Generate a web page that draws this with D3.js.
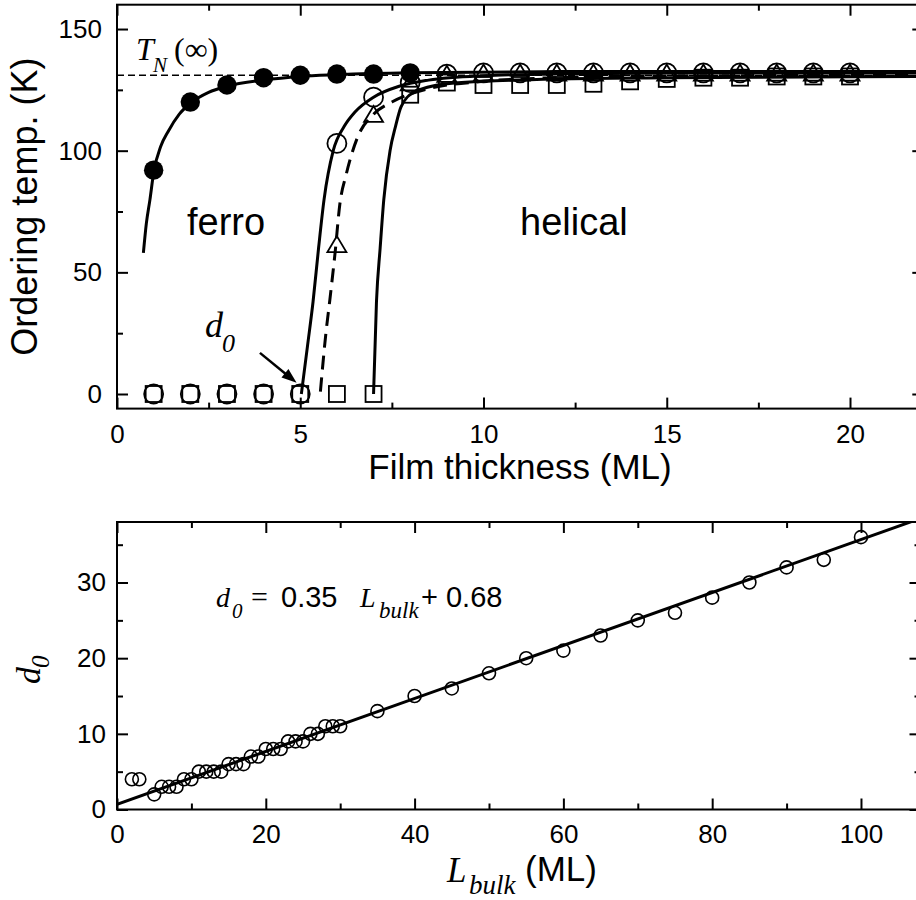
<!DOCTYPE html>
<html>
<head>
<meta charset="utf-8">
<script src="https://cdn.jsdelivr.net/npm/d3@7"></script>
<style>
  body { margin: 0; background: #fff; }
  svg { display: block; }
</style>
</head>
<body>
<div id="chart"></div>
<script>
// ---- top panel data (ordering temperature vs film thickness) ----
const thickness = d3.range(1, 21);
const ferroX = [1, 2, 3, 4, 5, 6, 7, 8];
const ferroT = [92, 120, 127, 130, 131, 131.5, 131.5, 132];
const circleT = [0, 0, 0, 0, 0, 103, 122, 128, 131.5, 132, 132, 132, 132, 132, 132, 132, 132, 132, 132, 132];
const triangleT = [null, null, null, null, null, 60.5, 114, 127, 130.5, 131, 131, 131, 131, 131, 131, 131, 131, 131, 131, 131];
const squareT = [0, 0, 0, 0, 0, 0, 0, 123, 128, 127, 127, 127, 127.5, 128.5, 129.5, 130, 130, 130.5, 130.5, 130.5];

// fitted curves as [thickness, T]
const ferroCurve = [[0.72, 58], [0.8, 70], [0.9, 80], [1.0, 91], [1.2, 102], [1.4, 108], [1.7, 115], [2, 119.5],
  [2.5, 124], [3, 126.5], [4, 129], [5, 130.5], [6, 131.2], [8, 132], [12, 132.5], [22, 132.5]];
const circleCurve = [[5.03, 0], [5.2, 20], [5.35, 38], [5.5, 60], [5.65, 80], [5.9, 100], [6.2, 110], [6.5, 116],
  [7, 122], [7.7, 126.5], [8.5, 129], [10, 130.8], [12, 131.5], [16, 132], [22, 132]];
const dashCurve = [[5.55, 1], [5.7, 25], [5.81, 39], [5.95, 58], [6.08, 78], [6.25, 90], [6.55, 105], [7, 115],
  [7.5, 120], [8.5, 125.5], [10, 128.5], [12, 130], [15, 130.7], [22, 131]];
const squareCurve = [[7.0, 0], [7.08, 38], [7.18, 60], [7.28, 80], [7.45, 100], [7.6, 110], [7.75, 118],
  [8.1, 124], [9, 127.5], [10, 128.5], [12, 129.5], [15, 130], [22, 130.5]];
const tnInf = 131;

const topXMajor = [0, 5, 10, 15, 20];
const topXMinor = [2.5, 7.5, 12.5, 17.5];
const topYMajor = [0, 50, 100, 150];
const topYMinor = [25, 75, 125];

// ---- bottom panel data (d0 vs L_bulk) ----
const lbulk = [2, 3, 5, 6, 7, 8, 9, 10, 11, 12, 13, 14, 15, 16, 17, 18, 19, 20, 21, 22, 23, 24, 25, 26, 27, 28, 29, 30,
  35, 40, 45, 50, 55, 60, 65, 70, 75, 80, 85, 90, 95, 100];
const d0 = [4, 4, 2, 3, 3, 3, 4, 4, 5, 5, 5, 5, 6, 6, 6, 7, 7, 8, 8, 8, 9, 9, 9, 10, 10, 11, 11, 11,
  13, 15, 16, 18, 20, 21, 23, 25, 26, 28, 30, 32, 33, 36];
const fitLine = [[0, 0.68], [108, 38.48]];

const botXMajor = [0, 20, 40, 60, 80, 100];
const botXMinor = [10, 30, 50, 70, 90];
const botYMajor = [0, 10, 20, 30];
const botYMinor = [5, 15, 25, 35];

const W = 916, H = 900;
const sans = "'Liberation Sans', Arial, Helvetica, sans-serif";
const serif = "'Liberation Serif', 'Times New Roman', serif";

const svg = d3.select("#chart").append("svg")
  .attr("width", W).attr("height", H)
  .attr("viewBox", [0, 0, W, H]);

// scales
const x1 = d3.scaleLinear([0, 22], [117, 923.3]);
const y1 = d3.scaleLinear([-6, 160], [408.6, 4.7]);
const x2 = d3.scaleLinear([0, 108], [117, 920.5]);
const y2 = d3.scaleLinear([0, 38], [809.5, 522]);

function frame(x, y, xMaj, xMin, yMaj, yMin, padX, padY) {
  const [l, r] = x.range(), [b, t] = y.range();
  const g = svg.append("g");
  const add = (axis, tr) => g.append("g").attr("transform", tr).call(axis);
  add(d3.axisBottom(x).tickValues(xMaj).tickSize(-11).tickPadding(padX).tickFormat(d3.format("d")), `translate(0,${b})`);
  add(d3.axisBottom(x).tickValues(xMin).tickSize(-6).tickFormat(""), `translate(0,${b})`);
  add(d3.axisTop(x).tickValues(xMaj).tickSize(-11).tickFormat(""), `translate(0,${t})`);
  add(d3.axisTop(x).tickValues(xMin).tickSize(-6).tickFormat(""), `translate(0,${t})`);
  add(d3.axisLeft(y).tickValues(yMaj).tickSize(-11).tickPadding(padY).tickFormat(d3.format("d")), `translate(${l},0)`);
  add(d3.axisLeft(y).tickValues(yMin).tickSize(-6).tickFormat(""), `translate(${l},0)`);
  add(d3.axisRight(y).tickValues(yMaj).tickSize(-11).tickFormat(""), `translate(${r},0)`);
  add(d3.axisRight(y).tickValues(yMin).tickSize(-6).tickFormat(""), `translate(${r},0)`);
  g.selectAll(".domain").remove();
  g.selectAll(".tick line").attr("stroke", "#000").attr("stroke-width", 2);
  g.selectAll(".tick text").attr("fill", "#000").style("font-family", sans).style("font-size", "26px");
  g.append("rect")
    .attr("x", l).attr("y", t).attr("width", r - l).attr("height", b - t)
    .attr("fill", "none").attr("stroke", "#000").attr("stroke-width", 2);
}

// ---------- top panel ----------
frame(x1, y1, topXMajor, topXMinor, topYMajor, topYMinor, 16, 15);

const line1 = d3.line().x(d => x1(d[0])).y(d => y1(d[1])).curve(d3.curveMonotoneX);

svg.append("line")
  .attr("x1", x1(0)).attr("x2", x1(22)).attr("y1", y1(tnInf)).attr("y2", y1(tnInf))
  .attr("stroke", "#000").attr("stroke-width", 1.5).attr("stroke-dasharray", "7,4");

const curves = svg.append("g").attr("fill", "none").attr("stroke", "#000").attr("stroke-width", 3);
curves.append("path").attr("d", line1(ferroCurve));
curves.append("path").attr("d", line1(circleCurve));
curves.append("path").attr("d", line1(squareCurve));
curves.append("path").attr("d", line1(dashCurve)).attr("stroke-dasharray", "14,8");

const marks = svg.append("g").attr("fill", "none").attr("stroke", "#000").attr("stroke-width", 1.8);
marks.selectAll(".tri").data(thickness.filter((d, i) => triangleT[i] != null)).join("path")
  .attr("class", "tri")
  .attr("transform", d => `translate(${x1(d)},${y1(triangleT[d - 1])})`)
  .attr("d", "M0,-10.7L9.5,5.3L-9.5,5.3Z");
marks.selectAll(".sq").data(thickness).join("rect")
  .attr("class", "sq")
  .attr("x", d => x1(d) - 8)
  .attr("y", (d, i) => y1(squareT[i]) - 8)
  .attr("width", 16).attr("height", 16);
marks.selectAll(".oc").data(thickness).join("circle")
  .attr("class", "oc")
  .attr("cx", d => x1(d)).attr("cy", (d, i) => y1(circleT[i])).attr("r", 9.5);
svg.append("g").selectAll("circle").data(ferroX).join("circle")
  .attr("cx", d => x1(d)).attr("cy", (d, i) => y1(ferroT[i])).attr("r", 9.7)
  .attr("fill", "#000");

// labels top panel
svg.append("text")
  .attr("transform", `translate(37,${(y1(160) + y1(-6)) / 2}) rotate(-90)`)
  .attr("text-anchor", "middle")
  .style("font-family", sans).style("font-size", "36px")
  .text("Ordering temp. (K)");
svg.append("text")
  .attr("x", 520).attr("y", 479).attr("text-anchor", "middle")
  .style("font-family", sans).style("font-size", "35px")
  .text("Film thickness (ML)");
svg.append("text").attr("x", 187).attr("y", 235)
  .style("font-family", sans).style("font-size", "38px").text("ferro");
svg.append("text").attr("x", 520).attr("y", 235)
  .style("font-family", sans).style("font-size", "38px").text("helical");

const tn = svg.append("g").style("font-family", serif);
tn.append("text").attr("x", 136).attr("y", 60).style("font-size", "32px").style("font-style", "italic").text("T");
tn.append("text").attr("x", 153).attr("y", 72).style("font-size", "21px").style("font-style", "italic").text("N");
tn.append("text").attr("x", 174).attr("y", 60).style("font-size", "32px").text("(∞)");

const dl = svg.append("g").style("font-family", serif).style("font-style", "italic");
dl.append("text").attr("x", 205).attr("y", 337).style("font-size", "36px").text("d");
dl.append("text").attr("x", 222).attr("y", 352).style("font-size", "26px").text("0");

// arrow pointing at d0
const aFrom = [3.9, 16.9], aTo = [4.9, 4.6];
const ax0 = x1(aFrom[0]), ay0 = y1(aFrom[1]), ax1 = x1(aTo[0]), ay1 = y1(aTo[1]);
const ang = Math.atan2(ay1 - ay0, ax1 - ax0);
svg.append("line")
  .attr("x1", ax0).attr("y1", ay0)
  .attr("x2", ax1 - 12 * Math.cos(ang)).attr("y2", ay1 - 12 * Math.sin(ang))
  .attr("stroke", "#000").attr("stroke-width", 2.5);
svg.append("path")
  .attr("transform", `translate(${ax1},${ay1}) rotate(${ang * 180 / Math.PI})`)
  .attr("d", "M0,0L-15,-5.5L-15,5.5Z").attr("fill", "#000");

// ---------- bottom panel ----------
frame(x2, y2, botXMajor, botXMinor, botYMajor, botYMinor, 15, 11);

svg.append("clipPath").attr("id", "clip2").append("rect")
  .attr("x", x2(0)).attr("y", y2(38)).attr("width", x2(108) - x2(0)).attr("height", y2(0) - y2(38));

const line2 = d3.line().x(d => x2(d[0])).y(d => y2(d[1]));
svg.append("path").attr("d", line2(fitLine)).attr("clip-path", "url(#clip2)")
  .attr("fill", "none").attr("stroke", "#000").attr("stroke-width", 3);

svg.append("g").selectAll("circle").data(lbulk).join("circle")
  .attr("cx", d => x2(d)).attr("cy", (d, i) => y2(d0[i])).attr("r", 6.5)
  .attr("fill", "none").attr("stroke", "#000").attr("stroke-width", 1.6);

// equation
const eq = svg.append("g");
eq.append("text").attr("x", 216).attr("y", 607).style("font-family", serif).style("font-style", "italic").style("font-size", "28px").text("d");
eq.append("text").attr("x", 232).attr("y", 618).style("font-family", serif).style("font-style", "italic").style("font-size", "21px").text("0");
eq.append("text").attr("x", 251).attr("y", 607).style("font-family", serif).style("font-size", "30px").text("=");
eq.append("text").attr("x", 281).attr("y", 607).style("font-family", sans).style("font-size", "29px").text("0.35");
eq.append("text").attr("x", 360).attr("y", 607).style("font-family", serif).style("font-style", "italic").style("font-size", "28px").text("L");
eq.append("text").attr("x", 379).attr("y", 618).style("font-family", serif).style("font-style", "italic").style("font-size", "23px").text("bulk");
eq.append("text").attr("x", 421).attr("y", 607).style("font-family", sans).style("font-size", "29px").text("+ 0.68");

// bottom axis titles
const xl = svg.append("g");
xl.append("text").attr("x", 447).attr("y", 882).style("font-family", serif).style("font-style", "italic").style("font-size", "35px").text("L");
xl.append("text").attr("x", 469).attr("y", 894).style("font-family", serif).style("font-style", "italic").style("font-size", "27px").text("bulk");
xl.append("text").attr("x", 525).attr("y", 881).style("font-family", sans).style("font-size", "35px").text("(ML)");

const yl = svg.append("g").attr("transform", "translate(40,684) rotate(-90)")
  .style("font-family", serif).style("font-style", "italic");
yl.append("text").attr("x", 0).attr("y", 0).style("font-size", "34px").text("d");
yl.append("text").attr("x", 16).attr("y", 9).style("font-size", "25px").text("0");
</script>
</body>
</html>
